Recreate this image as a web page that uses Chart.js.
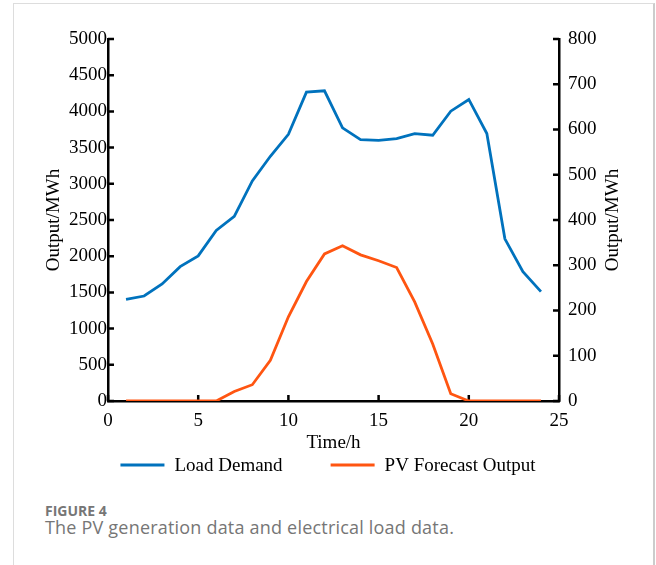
<!DOCTYPE html>
<html>
<head>
<meta charset="utf-8">
<script src="https://cdn.jsdelivr.net/npm/chart.js@4/dist/chart.umd.min.js"></script>
<style>
  body { margin: 0; background: #fff; width: 656px; height: 565px; overflow: hidden; position: relative; }
  .cartao { position: absolute; left: 13px; top: 3px; width: 639px; height: 620px; border: 1px solid #ddd; border-right: 2px solid #ccc; }
  #grafico1 { position: absolute; left: 0; top: 0; }
  .legenda { position: absolute; left: 45px; color: #767676; font-family: "Open Sans", sans-serif; white-space: nowrap; }
</style>
</head>
<body>
<div class="cartao"></div>
<canvas id="grafico1" width="656" height="490"></canvas>
<div class="legenda" style="top:501px;font-size:14px;font-weight:bold;">FIGURE 4</div>
<div class="legenda" style="top:515px;font-size:18px;letter-spacing:0.2px;">The PV generation data and electrical load data.</div>
<script>
    var horas = [1, 2, 3, 4, 5, 6, 7, 8, 9, 10, 11, 12, 13, 14, 15, 16, 17, 18, 19, 20, 21, 22, 23, 24];
    var demandaCarga = [1404, 1450, 1616, 1856, 2004, 2355, 2549, 3039, 3380, 3684, 4266, 4285,
                        3773, 3611, 3601, 3625, 3694, 3671, 4003, 4165, 3694, 2240, 1787, 1510];
    var previsaoPV = [0, 0, 0, 0, 0, 0, 21, 36, 90, 186, 264, 325,
                      343, 323, 310, 295, 219, 126, 16, 0, 0, 0, 0, 0];
    var ticksX = [0, 5, 10, 15, 20, 25];
    var ticksEsquerda = [0, 500, 1000, 1500, 2000, 2500, 3000, 3500, 4000, 4500, 5000];
    var ticksDireita = [0, 100, 200, 300, 400, 500, 600, 700, 800];
    var nomes = ["Load Demand", "PV Forecast Output"];
    var cores = ['#0072BD', '#FF5511'];

    var fonte = 'Liberation Serif, Times New Roman, serif';
    Chart.defaults.font.family = fonte;
    Chart.defaults.font.size = 19;
    Chart.defaults.color = '#000';

    function pontos(valores) {
        return horas.map(function (h, i) { return { x: h, y: valores[i] }; });
    }

    function usarTicks(lista) {
        return function (escala) {
            escala.ticks = lista.map(function (v) { return { value: v }; });
        };
    }

    function semVirgula(v) { return String(v); }

    // marcas dos eixos para dentro, titulo da direita e legenda
    var extras = {
        id: 'extras',
        beforeDatasetsDraw: function (chart) {
            var ctx = chart.ctx, a = chart.chartArea, s = chart.scales;
            ctx.save();
            ctx.strokeStyle = '#000';
            ctx.lineWidth = 2.5;
            ctx.beginPath();
            s.x.ticks.forEach(function (t) {
                var p = s.x.getPixelForValue(t.value);
                ctx.moveTo(p, a.bottom); ctx.lineTo(p, a.bottom - 6);
            });
            s.y.ticks.forEach(function (t) {
                var p = s.y.getPixelForValue(t.value);
                ctx.moveTo(a.left, p); ctx.lineTo(a.left + 6, p);
            });
            s.y1.ticks.forEach(function (t) {
                var p = s.y1.getPixelForValue(t.value);
                ctx.moveTo(a.right, p); ctx.lineTo(a.right - 6, p);
            });
            ctx.stroke();
            ctx.restore();
        },
        afterDraw: function (chart) {
            var ctx = chart.ctx, a = chart.chartArea;
            ctx.save();
            ctx.font = '19px ' + fonte;
            ctx.fillStyle = '#000';
            ctx.textBaseline = 'middle';

            ctx.save();
            ctx.translate(613, (a.top + a.bottom) / 2);
            ctx.rotate(-Math.PI / 2);
            ctx.textAlign = 'center';
            ctx.fillText('Output/MWh', 0, 0);
            ctx.restore();

            var linha = 44, espaco = 10, entre = 48, y = 465;
            var larguras = chart.data.datasets.map(function (d) { return ctx.measureText(d.label).width; });
            var total = linha * 2 + espaco * 2 + entre + larguras[0] + larguras[1];
            var x = 328 - total / 2;
            chart.data.datasets.forEach(function (d, i) {
                ctx.strokeStyle = d.borderColor;
                ctx.lineWidth = 3;
                ctx.beginPath();
                ctx.moveTo(x, y); ctx.lineTo(x + linha, y);
                ctx.stroke();
                ctx.textAlign = 'left';
                ctx.fillText(d.label, x + linha + espaco, y + 1);
                x += linha + espaco + larguras[i] + entre;
            });
            ctx.restore();
        }
    };

    var grafico1 = new Chart(document.getElementById('grafico1'), {
        type: 'line',
        data: {
            datasets: [{
                label: nomes[0],
                data: pontos(demandaCarga),
                borderColor: cores[0],
                backgroundColor: cores[0],
                borderWidth: 2.8,
                pointRadius: 0,
                yAxisID: 'y'
            }, {
                label: nomes[1],
                data: pontos(previsaoPV),
                borderColor: cores[1],
                backgroundColor: cores[1],
                borderWidth: 2.8,
                pointRadius: 0,
                yAxisID: 'y1'
            }]
        },
        options: {
            responsive: false,
            animation: false,
            layout: { padding: { top: 39, left: 0, right: 0, bottom: 35 } },
            plugins: {
                legend: { display: false },
                tooltip: { enabled: false }
            },
            scales: {
                x: {
                    type: 'linear',
                    min: 0, max: 25,
                    afterBuildTicks: usarTicks(ticksX),
                    afterFit: function (e) { e.height = 54; },
                    grid: { display: true, drawOnChartArea: false, drawTicks: false },
                    border: { display: true, color: '#000', width: 2.5 },
                    ticks: { padding: 9, maxRotation: 0, autoSkip: false, callback: semVirgula },
                    title: { display: true, text: 'Time/h', padding: { top: 2, bottom: 1 } }
                },
                y: {
                    type: 'linear',
                    position: 'left',
                    min: 0, max: 5000,
                    afterBuildTicks: usarTicks(ticksEsquerda),
                    afterFit: function (e) { e.width = 108; },
                    grid: { display: true, drawOnChartArea: false, drawTicks: false },
                    border: { display: true, color: '#000', width: 2.5 },
                    ticks: { padding: 1, callback: semVirgula },
                    title: { display: true, text: 'Output/MWh', padding: { top: 43, bottom: 0 } }
                },
                y1: {
                    type: 'linear',
                    position: 'right',
                    min: 0, max: 800,
                    afterBuildTicks: usarTicks(ticksDireita),
                    afterFit: function (e) { e.width = 97; },
                    grid: { display: true, drawOnChartArea: false, drawTicks: false },
                    border: { display: true, color: '#000', width: 2.5 },
                    ticks: { padding: 9, callback: semVirgula }
                }
            }
        },
        plugins: [extras]
    });
</script>
</body>
</html>
